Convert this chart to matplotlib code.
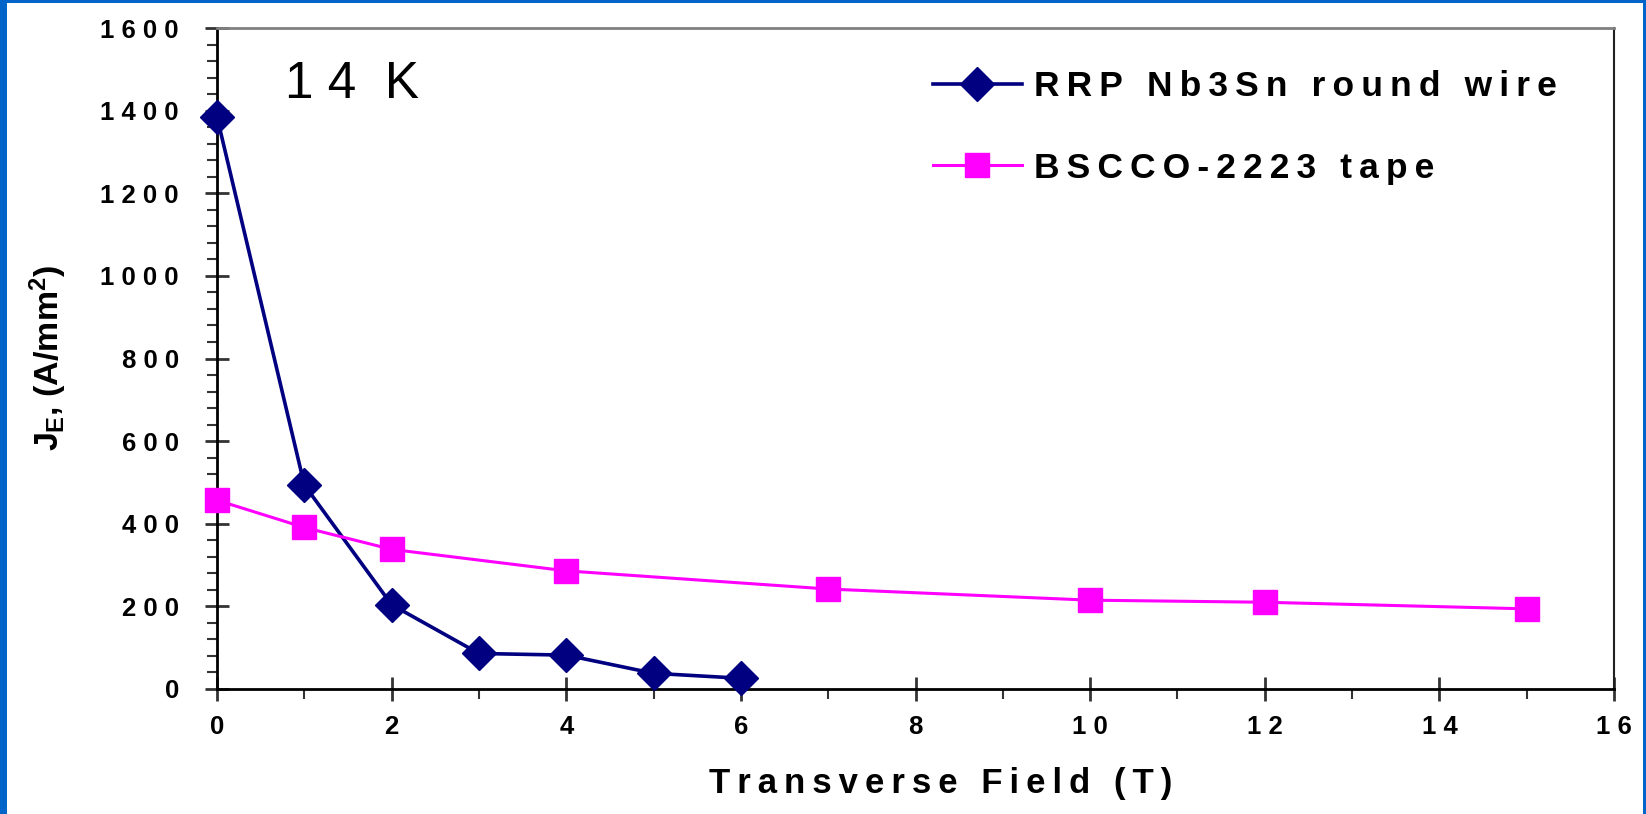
import matplotlib
matplotlib.use("Agg")
import matplotlib.pyplot as plt
from matplotlib.patches import Rectangle
from matplotlib.ticker import FixedLocator, MultipleLocator

# data
rrp_field = [0, 1, 2, 3, 4, 5, 6]
rrp_je = [1385, 494, 204, 86, 82, 38, 26]
bscco_field = [0, 1, 2, 4, 7, 10, 12, 15]
bscco_je = [457, 391, 338, 286, 242, 215, 210, 194]
x_ticks = [0, 2, 4, 6, 8, 10, 12, 14, 16]
y_ticks = [0, 200, 400, 600, 800, 1000, 1200, 1400, 1600]
rrp_label = "RRP Nb3Sn round wire"
bscco_label = "BSCCO-2223 tape"
x_title = "Transverse Field (T)"
temp_note = "14 K"

THIN = '\u2009'
WORD = THIN + ' ' + THIN


def spaced(s, gap=' ', word_gap='  '):
    # letter-spaced text like the original slide
    return word_gap.join(gap.join(w) for w in s.split(' '))


plt.rcParams['font.family'] = ['Liberation Sans', 'DejaVu Sans']
plt.rcParams['mathtext.fontset'] = 'custom'
plt.rcParams['mathtext.rm'] = 'Liberation Sans:bold'
plt.rcParams['mathtext.it'] = 'Liberation Sans:bold'
plt.rcParams['mathtext.bf'] = 'Liberation Sans:bold'

W, H = 1646, 814
fig = plt.figure(figsize=(W / 100, H / 100), dpi=100)
fig.patch.set_facecolor('#0064c8')
# white slide area inside the blue frame
fig.add_artist(Rectangle((7 / W, 0), (W - 10) / W, (H - 3) / H,
                         transform=fig.transFigure, facecolor='white',
                         edgecolor='none', zorder=-1))

ax = fig.add_axes([217 / W, 1 - 689 / H, (1614 - 217) / W, (689 - 28) / H])
ax.set_facecolor('white')

ax.plot(rrp_field, rrp_je, color='#000080', lw=2.6, marker='D', ms=17.5,
        mec='#000080', mfc='#000080', clip_on=False, zorder=3,
        label=spaced(rrp_label, THIN, WORD))
ax.plot(bscco_field, bscco_je, color='#ff00ff', lw=2.2, marker='s', ms=17,
        mec='#ff00ff', mfc='#ff00ff', clip_on=False, zorder=3,
        label=spaced(bscco_label, THIN, WORD))

ax.set_xlim(0, 16)
ax.set_ylim(0, 1600)
ax.xaxis.set_major_locator(FixedLocator(x_ticks))
ax.yaxis.set_major_locator(FixedLocator(y_ticks))
ax.xaxis.set_minor_locator(MultipleLocator(1))
ax.yaxis.set_minor_locator(MultipleLocator(40))
ax.set_xticklabels([spaced(str(v)) for v in x_ticks])
ax.set_yticklabels([spaced(str(v)) for v in y_ticks])

for lab in ax.get_xticklabels() + ax.get_yticklabels():
    lab.set_fontsize(18.5)
    lab.set_fontweight('bold')

ax.tick_params(which='major', direction='inout', length=17, width=2,
               color='#333333')
ax.tick_params(which='minor', direction='out', length=7, width=1.5,
               color='#333333')
ax.tick_params(axis='x', which='major', pad=10)
ax.tick_params(axis='y', which='major', pad=19)

for s in ['left', 'bottom']:
    ax.spines[s].set_linewidth(2)
    ax.spines[s].set_color('black')
ax.spines['top'].set_color('#808080')
ax.spines['top'].set_linewidth(2)
ax.spines['right'].set_color('#202020')
ax.spines['right'].set_linewidth(1.5)

ax.text(0.049, 0.894, spaced(temp_note), transform=ax.transAxes, fontsize=37,
        ha='left', va='baseline')

fig.text(941 / W, 1 - 793 / H, spaced(x_title, THIN, WORD),
         fontsize=25, fontweight='bold', ha='center', va='baseline')
fig.text(48 / W, 1 - 358 / H, r"$J_{E}$, (A/mm$^{2}$)", fontsize=24.5,
         fontweight='bold', rotation=90, ha='center', va='center')

leg = ax.legend(loc='upper left', bbox_to_anchor=(933 / W, 1 - 70 / H),
                bbox_transform=fig.transFigure, frameon=False,
                prop={'size': 25.5, 'weight': 'bold'}, handlelength=2.5,
                handletextpad=0.36, labelspacing=1.38, borderpad=0,
                borderaxespad=0)

fig.savefig("out.png", dpi=100)
